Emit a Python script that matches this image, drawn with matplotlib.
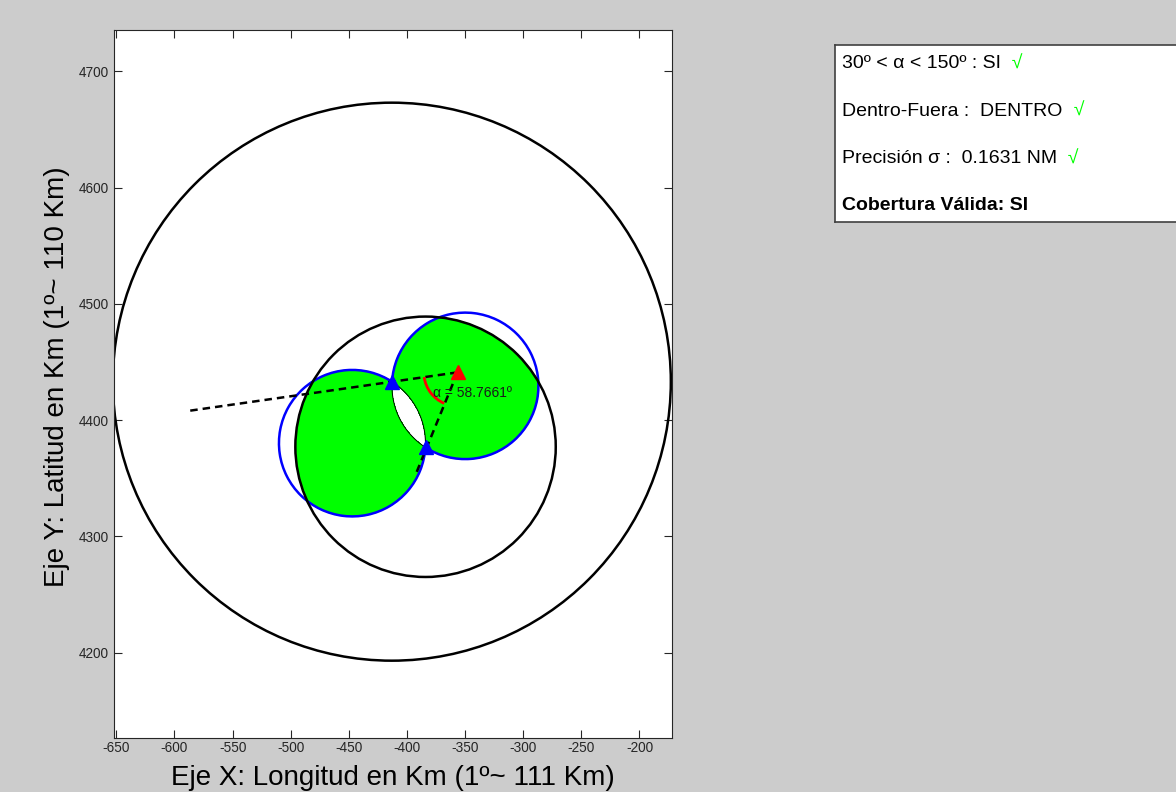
import numpy as np
import matplotlib.pyplot as plt
from matplotlib.patches import Circle, Arc

plt.rcParams['font.family'] = ['Liberation Sans', 'DejaVu Sans']
plt.rcParams['axes.unicode_minus'] = False

# radar sites (km) and coverage radius of each one
radar_x = [-413.0, -384.0]
radar_y = [4433.0, 4377.0]
radar_range = [240.0, 112.0]

# aircraft position
target_x = -356.5
target_y = 4441.0

# circles where the angle seen between both radars is 30º / 150º
iso_x = [-349.9, -447.1]
iso_y = [4429.4, 4380.1]
iso_r = 63.0

# far ends of the dashed sight lines (target -> through each radar)
line_end_x = [-587.0, -393.0]
line_end_y = [4408.0, 4352.0]

alpha_deg = 58.7661
arc_r = 29.0

x_ticks = list(range(-650, -150, 50))
y_ticks = list(range(4200, 4800, 100))

status_text = ['30º < α < 150º : SI', 'Dentro-Fuera :  DENTRO',
               'Precisión σ :  0.1631 NM', 'Cobertura Válida: SI']
status_ok = [True, True, True, False]

fig = plt.figure(figsize=(11.76, 7.92), dpi=100, facecolor='#cccccc')
ax = fig.add_axes([114 / 1176, 54 / 792, 558 / 1176, 708 / 792])

# limits with equal km per pixel on both axes
xlim = (-652.0, -172.0)
yc = 4431.0
half_y = (xlim[1] - xlim[0]) * 708 / 558 / 2
ax.set_xlim(*xlim)
ax.set_ylim(yc - half_y, yc + half_y)

# valid area: inside exactly one iso-angle circle and inside every coverage
gx, gy = np.meshgrid(np.linspace(-540, -250, 1500), np.linspace(4280, 4540, 1400))
sa = iso_r - np.hypot(gx - iso_x[0], gy - iso_y[0])
sb = iso_r - np.hypot(gx - iso_x[1], gy - iso_y[1])
g = np.minimum(np.maximum(sa, sb), -np.minimum(sa, sb))
for rx, ry, rr in zip(radar_x, radar_y, radar_range):
    g = np.minimum(g, rr - np.hypot(gx - rx, gy - ry))
ax.contourf(gx, gy, g, levels=[0, g.max() + 1], colors=['#00ff00'], zorder=1)
ax.contour(gx, gy, g, levels=[0], colors='k', linewidths=0.7, zorder=1.5)

# iso-angle circles, leaving out the arc that lies inside the other circle
dist_c = np.hypot(iso_x[1] - iso_x[0], iso_y[1] - iso_y[0])
half_open = np.degrees(np.arccos(dist_c / 2 / iso_r))
for i in range(2):
    j = 1 - i
    towards = np.degrees(np.arctan2(iso_y[j] - iso_y[i], iso_x[j] - iso_x[i]))
    ax.add_patch(Arc((iso_x[i], iso_y[i]), 2 * iso_r, 2 * iso_r,
                     theta1=towards + half_open, theta2=towards - half_open + 360,
                     color='#0000ff', lw=1.8, zorder=2))
for rx, ry, rr in zip(radar_x, radar_y, radar_range):
    ax.add_patch(Circle((rx, ry), rr, fill=False, ec='k', lw=1.8, zorder=2.5))

for ex, ey in zip(line_end_x, line_end_y):
    ax.plot([target_x, ex], [target_y, ey], color='k', ls='--', lw=1.8,
            dashes=(3, 2), zorder=3)

# angle arc between the two sight lines
a1 = np.degrees(np.arctan2(radar_y[0] - target_y, radar_x[0] - target_x))
a2 = np.degrees(np.arctan2(radar_y[1] - target_y, radar_x[1] - target_x))
ax.add_patch(Arc((target_x, target_y), 2 * arc_r, 2 * arc_r, theta1=min(a1, a2),
                 theta2=max(a1, a2), color='#ff0000', lw=2, zorder=3.5))
ax.text(-378, 4423, f'α = {alpha_deg:.4f}º', fontsize=10, va='center',
        color='#1a1a1a', zorder=5)

ax.plot(radar_x, radar_y, '^', color='#0000ff', ms=10, zorder=4)
ax.plot([target_x], [target_y], '^', color='#ff0000', ms=10, zorder=4)

ax.set_xticks(x_ticks)
ax.set_yticks(y_ticks)
ax.tick_params(direction='in', top=True, right=True, length=6, width=0.8,
               labelsize=9.8, colors='#262626', pad=4)
ax.tick_params(axis='x', pad=2.5)
for s in ax.spines.values():
    s.set_color('#262626')
    s.set_linewidth(0.8)
ax.set_xlabel('Eje X: Longitud en Km (1º~ 111 Km)', fontsize=20, labelpad=7)
ax.set_ylabel('Eje Y: Latitud en Km (1º~ 110 Km)', fontsize=20)
ax.yaxis.set_label_coords(-0.078, 0.51)

# status box on the right
bx = fig.add_axes([835 / 1176, (792 - 222) / 792, 360 / 1176, 177 / 792])
bx.set_xlim(0, 1)
bx.set_ylim(0, 1)
bx.set_xticks([])
bx.set_yticks([])
for s in bx.spines.values():
    s.set_color('#404040')
    s.set_linewidth(1.2)
for i, (txt, ok) in enumerate(zip(status_text, status_ok)):
    y = [0.893, 0.627, 0.356, 0.096][i]
    t = bx.text(0.02, y, txt, fontsize=14, va='center',
                fontweight='bold' if i == 3 else 'normal')
    if ok:
        bx.annotate('  √', xy=(1, 0.5), xycoords=t, va='center', fontsize=14,
                    color='#00ff00')

fig.savefig('out.png', dpi=100, facecolor=fig.get_facecolor())
